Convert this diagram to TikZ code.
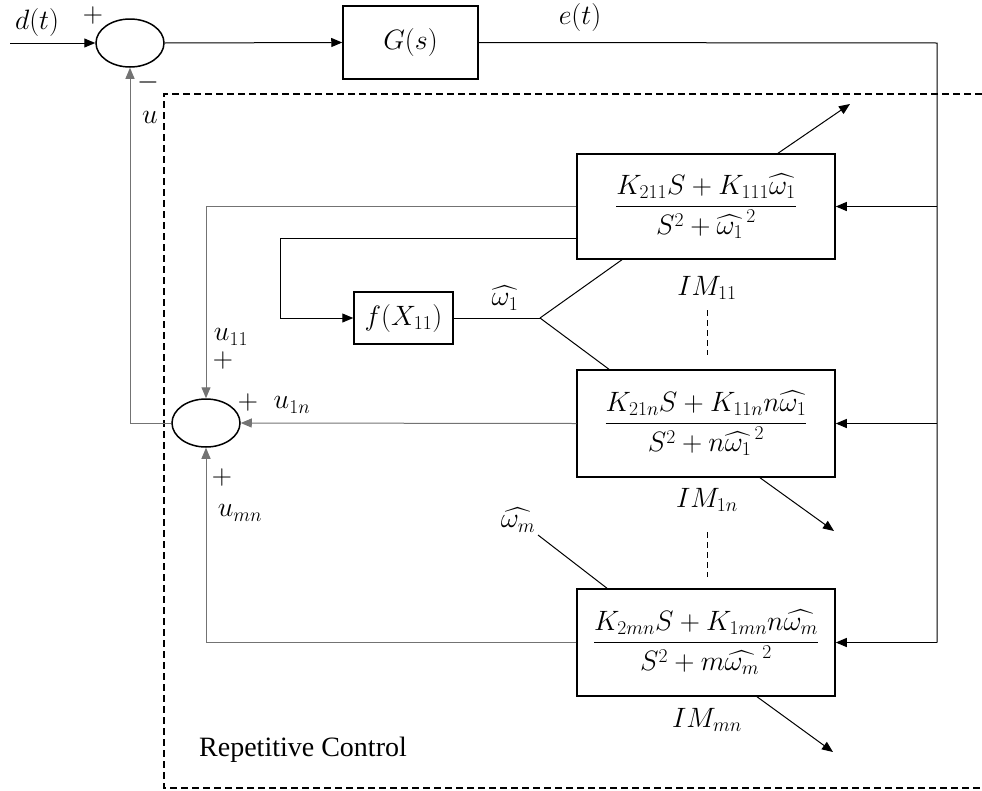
\RequirePackage{fix-cm}
\documentclass[tikz,border=0pt]{standalone}
\usepackage{amsmath}
\usepackage{fontspec}
\newfontfamily\rcfont{Liberation Serif}
\usetikzlibrary{arrows.meta,shapes.geometric}
\begin{document}
\begin{tikzpicture}[x=1pt,y=-1pt,font=\fontsize{28}{33}\selectfont,
  blk/.style={draw,line width=1.5pt,inner sep=0pt},
  sumc/.style={draw,ellipse,line width=1.5pt,minimum width=68pt,minimum height=48pt,inner sep=0pt},
  con/.style={line width=1pt},
  gcon/.style={line width=1pt,draw=black!55},
  arr/.style={-{Triangle[length=11pt,width=9pt]}},
  lbl/.style={inner sep=0pt},
  dsh/.style={line width=1.2pt,dash pattern=on 7pt off 4pt}]
\useasboundingbox (0,0) rectangle (982,790);
% dashed region
\draw[dsh] (982,94) -- (164,94) -- (164,788) -- (982,788);
% nodes
\node[sumc] (S1) at (130,43) {};
\node[sumc] (S2) at (206,423) {};
\node[blk,minimum width=135pt,minimum height=73pt] (G) at (410.5,42.5) {$G(s)$};
\node[blk,minimum width=99pt,minimum height=52pt] (F) at (403.5,318) {$f(X_{11})$};
\node[blk,minimum width=258pt,minimum height=105pt] (B1) at (706,206.5)
  {$\dfrac{K_{211}S+K_{111}\widehat{\omega_1}}{S^2+\widehat{\omega_1}^{\,2}}$};
\node[blk,minimum width=258pt,minimum height=107pt] (B2) at (706,423.5)
  {$\dfrac{K_{21n}S+K_{11n}n\widehat{\omega_1}}{S^2+n\widehat{\omega_1}^{\,2}}$};
\node[blk,minimum width=258pt,minimum height=107pt] (B3) at (706,642.5)
  {$\dfrac{K_{2mn}S+K_{1mn}n\widehat{\omega_m}}{S^2+m\widehat{\omega_m}^{\,2}}$};
% coordinates
\coordinate (in) at (10,43);
\coordinate (eR) at (937,43);
\coordinate (eB) at (937,642.5);
\coordinate (e1) at (937,206.5);
\coordinate (e2) at (937,423.5);
\coordinate (k1) at (577,238);
\coordinate (k2) at (280,238);
\coordinate (k3) at (280,318);
\coordinate (br) at (540,318);
\coordinate (t1) at (623,259);
\coordinate (t2) at (610,370);
\coordinate (o1) at (850,104);
\coordinate (o2) at (834,531);
\coordinate (o3) at (833,752);
\coordinate (wm) at (538,535);
\coordinate (d1a) at (707,310);
\coordinate (d1b) at (707,355);
\coordinate (d2a) at (707,532);
\coordinate (d2b) at (707,577);
% connectors
\draw[con,arr] (in) -- (S1.west);
\draw[con,arr] (S1.east) -- (G.west);
\draw[con] (G.east) -- (eR) -- (eB);
\draw[con,arr] (e1) -- (B1.east);
\draw[con,arr] (e2) -- (B2.east);
\draw[con,arr] (eB) -- (B3.east);
\draw[gcon,arr] (S2.west) -| (S1.south);
\draw[gcon,arr] (B1.west) -| (S2.north);
\draw[gcon,arr] (B2.west) -- (S2.east);
\draw[gcon,arr] (B3.west) -| (S2.south);
\draw[con,arr] (k1) -- (k2) -- (k3) -- (F.west);
\draw[con] (F.east) -- (br);
\draw[con] (br) -- (t1);
\draw[con] (br) -- (t2);
\draw[con,arr] ([xshift=72pt]B1.north) -- (o1);
\draw[con,arr] ([xshift=54pt]B2.south) -- (o2);
\draw[con,arr] ([xshift=51pt]B3.south) -- (o3);
\draw[con] (wm) -- ([xshift=-99pt]B3.north);
\draw[con,dash pattern=on 6pt off 4pt] (d1a) -- (d1b);
\draw[con,dash pattern=on 6pt off 4pt] (d2a) -- (d2b);
% labels
\node[lbl] (ld) at (37,22) {$d(t)$};
\node[lbl] (lp1) at (93,15) {$+$};
\node[lbl] (lm1) at (148,82) {$-$};
\node[lbl] (le) at (580,17) {$e(t)$};
\node[lbl] (lu) at (150,117) {$u$};
\node[lbl] (lw1) at (505,298) {$\widehat{\omega_1}$};
\node[lbl] (lwm) at (518,520) {$\widehat{\omega_m}$};
\node[lbl] (lim1) at (707,288) {$IM_{11}$};
\node[lbl] (lim2) at (707,500) {$IM_{1n}$};
\node[lbl] (lim3) at (707,720) {$IM_{mn}$};
\node[lbl] (lu11) at (231,337) {$u_{11}$};
\node[lbl] (lp2) at (223,360) {$+$};
\node[lbl] (lp3) at (248,402) {$+$};
\node[lbl] (lu1n) at (292,405) {$u_{1n}$};
\node[lbl] (lp4) at (222,477) {$+$};
\node[lbl] (lumn) at (240,513) {$u_{mn}$};
\node[lbl,font=\rcfont\fontsize{28}{33}\selectfont] (lrc) at (303,750) {Repetitive Control};
\end{tikzpicture}
\end{document}
